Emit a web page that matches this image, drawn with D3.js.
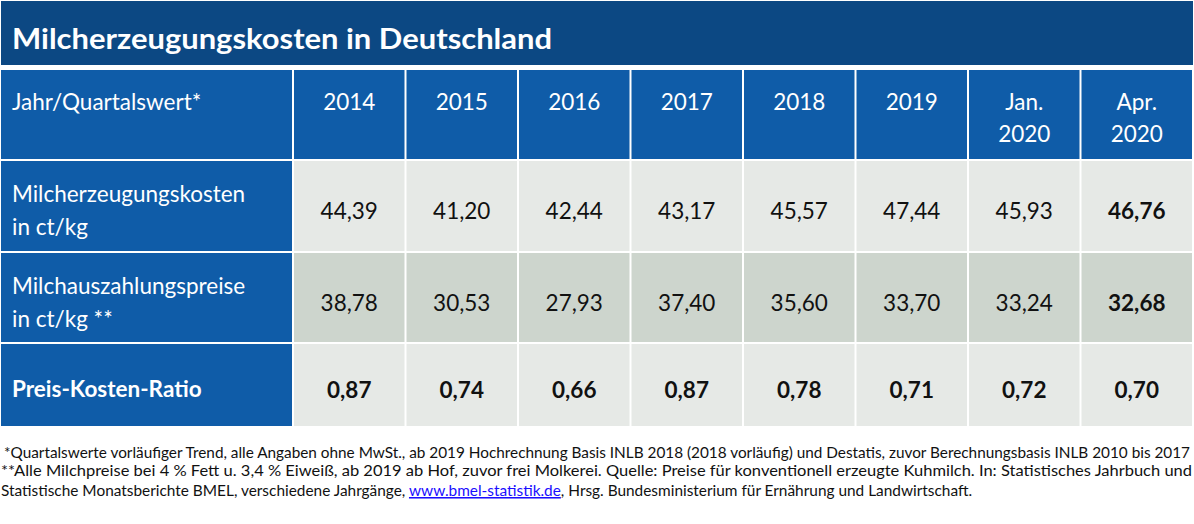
<!DOCTYPE html>
<html>
<head>
<meta charset="utf-8">
<script src="https://cdn.jsdelivr.net/npm/d3@7"></script>
<style>
  body { margin: 0; background: #fff; }
  svg { display: block; font-family: "Lato", "Open Sans", sans-serif; }
</style>
</head>
<body>
<div id="chart"></div>
<script>
const width = 1194;
const height = 524;

// data
const title = "Milcherzeugungskosten in Deutschland";
const columns = ["2014", "2015", "2016", "2017", "2018", "2019", "Jan.|2020", "Apr.|2020"];
const rowLabels = ["Jahr/Quartalswert*", "Milcherzeugungskosten|in ct/kg", "Milchauszahlungspreise|in ct/kg **", "Preis-Kosten-Ratio"];
const costs = ["44,39", "41,20", "42,44", "43,17", "45,57", "47,44", "45,93", "46,76"];
const prices = ["38,78", "30,53", "27,93", "37,40", "35,60", "33,70", "33,24", "32,68"];
const ratio = ["0,87", "0,74", "0,66", "0,87", "0,78", "0,71", "0,72", "0,70"];
const footnotes = [
  " *Quartalswerte vorläufiger Trend, alle Angaben ohne MwSt., ab 2019 Hochrechnung Basis INLB 2018 (2018 vorläufig) und Destatis, zuvor Berechnungsbasis INLB 2010 bis 2017",
  "**Alle Milchpreise bei 4 % Fett u. 3,4 % Eiweiß, ab 2019 ab Hof, zuvor frei Molkerei. Quelle: Preise für konventionell erzeugte Kuhmilch. In: Statistisches Jahrbuch und"
];

const svg = d3.select("#chart").append("svg")
    .attr("width", width)
    .attr("height", height);

// title bar
svg.append("rect")
    .attr("x", 1).attr("y", 1)
    .attr("width", 1192).attr("height", 64)
    .attr("fill", "#0c4883");
svg.append("text")
    .attr("x", 12).attr("y", 49)
    .attr("fill", "#fff")
    .style("font-size", "29px")
    .style("font-weight", "bold")
    .attr("textLength", 540)
    .attr("lengthAdjust", "spacingAndGlyphs")
    .text(title);

const x = d3.scaleBand()
    .domain(columns)
    .range([293, 1193]);

// row layout: tops and heights
const rowKeys = ["head", "cost", "price", "ratio"];
const rowH = [91, 92, 91, 84];
const rowTop = {};
let acc = 70;
rowKeys.forEach((k, i) => { rowTop[k] = acc; acc += rowH[i]; });
const rowHeight = k => rowH[rowKeys.indexOf(k)];

const rowData = { cost: costs, price: prices, ratio: ratio };
const rowFill = { cost: "#e6e9e6", price: "#cdd5cd", ratio: "#e6e9e6" };
const gap = 2;

// left label column
const labels = svg.append("g");
labels.selectAll("rect")
    .data(rowKeys)
    .join("rect")
    .attr("x", 1)
    .attr("y", d => rowTop[d])
    .attr("width", 293 - 1 - gap / 2)
    .attr("height", d => rowHeight(d) - gap)
    .attr("fill", "#0f5ca8");

labels.selectAll("text")
    .data(rowKeys)
    .join("text")
    .attr("fill", "#fff")
    .style("font-size", "22.5px")
    .style("font-weight", d => d === "ratio" ? "bold" : "normal")
    .each(function(d, i) {
        const lines = rowLabels[i].split("|");
        const el = d3.select(this);
        let y0;
        if (d === "head") y0 = rowTop[d] + 40;
        else y0 = rowTop[d] + rowHeight(d) / 2 + 11 - (lines.length - 1) * 16;
        lines.forEach((t, j) => {
            el.append("tspan")
                .attr("x", 12)
                .attr("y", y0 + j * 33)
                .text(t);
        });
    });

// header cells
const head = svg.append("g");
head.selectAll("rect")
    .data(columns)
    .join("rect")
    .attr("x", d => x(d) + gap / 2)
    .attr("y", rowTop.head)
    .attr("width", x.bandwidth() - gap)
    .attr("height", rowHeight("head") - gap)
    .attr("fill", "#0f5ca8");

head.selectAll("text")
    .data(columns)
    .join("text")
    .attr("fill", "#fff")
    .attr("text-anchor", "middle")
    .style("font-size", "22.5px")
    .each(function(d) {
        const el = d3.select(this);
        d.split("|").forEach((t, j) => {
            el.append("tspan")
                .attr("x", x(d) + x.bandwidth() / 2)
                .attr("y", rowTop.head + 40 + j * 32)
                .text(t);
        });
    });

// body cells
["cost", "price", "ratio"].forEach(key => {
    const g = svg.append("g");
    const vals = rowData[key];
    g.selectAll("rect")
        .data(columns)
        .join("rect")
        .attr("x", d => x(d) + gap / 2)
        .attr("y", rowTop[key])
        .attr("width", x.bandwidth() - gap)
        .attr("height", rowHeight(key) - gap)
        .attr("fill", rowFill[key]);
    g.selectAll("text")
        .data(columns)
        .join("text")
        .attr("x", d => x(d) + x.bandwidth() / 2)
        .attr("y", rowTop[key] + rowHeight(key) / 2 + 12)
        .attr("text-anchor", "middle")
        .attr("fill", "#111")
        .style("font-size", "22.5px")
        .style("font-weight", (d, i) => (key === "ratio" || i === columns.length - 1) ? "bold" : "normal")
        .text((d, i) => vals[i]);
});

// footnotes
const foot = svg.append("g")
    .attr("fill", "#111")
    .style("font-size", "15.4px");

foot.append("text")
    .attr("x", 4).attr("y", 458)
    .attr("textLength", 1186)
    .attr("lengthAdjust", "spacingAndGlyphs")
    .text(footnotes[0]);

foot.append("text")
    .attr("x", 1).attr("y", 476)
    .attr("textLength", 1191)
    .attr("lengthAdjust", "spacingAndGlyphs")
    .text(footnotes[1]);

const line3 = foot.append("text")
    .attr("x", 1).attr("y", 496);
line3.append("tspan").text("Statistische Monatsberichte BMEL, verschiedene Jahrgänge, ");
line3.append("tspan")
    .attr("fill", "#1a0dff")
    .attr("text-decoration", "underline")
    .text("www.bmel-statistik.de");
line3.append("tspan").text(", Hrsg. Bundesministerium für Ernährung und Landwirtschaft.");
</script>
</body>
</html>
